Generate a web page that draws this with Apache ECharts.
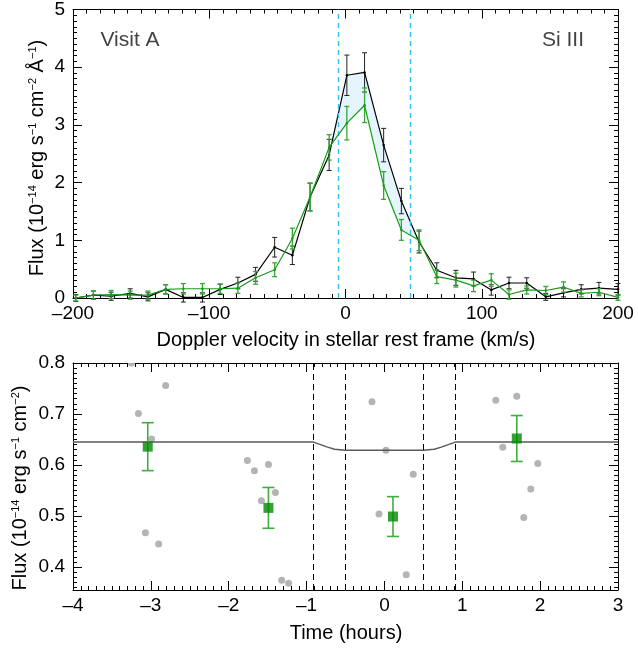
<!DOCTYPE html>
<html><head><meta charset="utf-8">
<script src="https://cdn.jsdelivr.net/npm/echarts@6/dist/echarts.min.js"></script>
<style>html,body{margin:0;padding:0;background:#fff}#c{width:638px;height:648px}</style>
</head><body><div id="c"></div>
<script>
// ---------- Top panel: Si III line profile ----------
const velocity = [-198, -185, -172, -158, -145, -132, -119, -105, -92, -79, -66, -52, -39, -26, -12, 1, 14, 28, 41, 54, 67, 81, 94, 107, 120, 133, 147, 160, 173, 186, 200];
const fluxVisit = [0.00, 0.05, 0.03, 0.08, 0.02, 0.15, 0.01, 0.01, 0.15, 0.26, 0.41, 0.88, 0.74, 1.75, 2.48, 3.86, 3.91, 2.65, 1.68, 0.97, 0.48, 0.35, 0.33, 0.14, 0.26, 0.26, 0.02, 0.09, 0.15, 0.17, 0.15];
const errVisit = [0.06, 0.07, 0.07, 0.08, 0.07, 0.08, 0.08, 0.08, 0.09, 0.10, 0.12, 0.17, 0.16, 0.24, 0.27, 0.35, 0.34, 0.29, 0.22, 0.19, 0.13, 0.13, 0.12, 0.09, 0.10, 0.09, 0.06, 0.07, 0.08, 0.10, 0.10];
const fluxRef = [0.00, 0.05, 0.06, 0.05, 0.05, 0.15, 0.16, 0.16, 0.16, 0.17, 0.35, 0.49, 1.03, 1.75, 2.61, 3.03, 3.34, 1.95, 1.18, 1.00, 0.37, 0.31, 0.21, 0.31, 0.06, 0.14, 0.13, 0.19, 0.08, 0.10, 0.01];
const errRef = [0.05, 0.07, 0.07, 0.07, 0.07, 0.08, 0.09, 0.09, 0.08, 0.09, 0.11, 0.12, 0.18, 0.24, 0.22, 0.29, 0.30, 0.24, 0.18, 0.18, 0.12, 0.12, 0.10, 0.11, 0.08, 0.07, 0.07, 0.09, 0.06, 0.06, 0.05];
const windowEdges = [-5.5, 47.5];
const fillRange = [14, 19];

// ---------- Bottom panel: light curve ----------
const exposureTime = [-3.25, -2.81, -3.16, -2.99, -3.07, -2.90, -1.76, -1.67, -1.49, -1.40, -1.58, -1.32, -1.23, -0.16, 0.02, 0.37, -0.07, 0.28, 1.43, 1.70, 1.52, 1.97, 1.88, 1.79];
const exposureFlux = [0.800, 0.756, 0.701, 0.651, 0.467, 0.445, 0.609, 0.589, 0.601, 0.546, 0.530, 0.374, 0.368, 0.724, 0.629, 0.582, 0.504, 0.385, 0.727, 0.735, 0.635, 0.603, 0.553, 0.497];
const binTime = [-3.04, -1.49, 0.11, 1.70];
const binFlux = [0.636, 0.516, 0.499, 0.652];
const binErr = [0.047, 0.040, 0.039, 0.045];
const modelTime = [-4, -0.91, -0.82, -0.73, -0.64, -0.5, 0.5, 0.64, 0.73, 0.82, 0.91, 3];
const modelFlux = [0.645, 0.645, 0.640, 0.635, 0.631, 0.629, 0.629, 0.631, 0.635, 0.640, 0.645, 0.645];
const contactTimes = [-0.91, -0.5, 0.5, 0.91];
const lcMajorTicks = [0.4, 0.5, 0.6, 0.7, 0.8];

const FONT = '"Liberation Sans", Arial, Helvetica, sans-serif';
const lcMinorTicks = [];
for (let k = 36; k <= 80; k++) { if (k % 10 !== 0) lcMinorTicks.push(k / 100); }

const minusFmt = v => String(v).replace('-', '\u2013');

function xAx(gridIndex, pos, min, max, interval, showLabel) {
  return {
    type: 'value', gridIndex, position: pos, min, max, interval,
    axisLine: { show: true, onZero: false, lineStyle: { color: '#000', width: 1 } },
    axisTick: { show: true, inside: true, length: 9, lineStyle: { color: '#000' } },
    minorTick: { show: true, splitNumber: 10, length: 4, lineStyle: { color: '#000' } },
    splitLine: { show: false }, minorSplitLine: { show: false },
    axisLabel: { show: showLabel, margin: 6, fontSize: 19, fontFamily: FONT, color: '#000', formatter: minusFmt }
  };
}
function yAx(gridIndex, pos, min, max, interval, showLabel) {
  const a = xAx(gridIndex, pos, min, max, interval, showLabel);
  a.axisLabel.margin = 8;
  return a;
}
function yCustom(gridIndex, pos, ticks, len, labels, showLine) {
  return {
    type: 'value', gridIndex, position: pos, min: 0.355, max: 0.8,
    axisLine: { show: showLine, onZero: false, lineStyle: { color: '#000', width: 1 } },
    axisTick: { show: true, inside: true, length: len, customValues: ticks, lineStyle: { color: '#000' } },
    minorTick: { show: false },
    splitLine: { show: false },
    axisLabel: labels ? { show: true, margin: 8, fontSize: 19, fontFamily: FONT, color: '#000', customValues: lcMajorTicks, formatter: v => v.toFixed(1) } : { show: false }
  };
}

function errRender(capHalf, color, width) {
  return function (params, api) {
    const x = api.value(0), lo = api.value(1), hi = api.value(2);
    const p1 = api.coord([x, lo]), p2 = api.coord([x, hi]);
    const style = { stroke: color, lineWidth: width, fill: null };
    return { type: 'group', children: [
      { type: 'line', shape: { x1: p1[0], y1: p1[1], x2: p2[0], y2: p2[1] }, style },
      { type: 'line', shape: { x1: p1[0] - capHalf, y1: p1[1], x2: p1[0] + capHalf, y2: p1[1] }, style },
      { type: 'line', shape: { x1: p2[0] - capHalf, y1: p2[1], x2: p2[0] + capHalf, y2: p2[1] }, style }
    ] };
  };
}

function dotRender(params, api) {
  const p = api.coord([api.value(0), api.value(1)]);
  return { type: 'circle', shape: { cx: p[0], cy: p[1], r: 3.5 }, style: { fill: '#b4b4b4' } };
}

function fillRender(params, api) {
  const d = i => fluxVisit[i] - fluxRef[i];
  const upper = [], lower = [];
  for (let i = fillRange[0]; i <= fillRange[1]; i++) {
    const da = d(i);
    if (da > 0) { upper.push([velocity[i], fluxVisit[i]]); lower.push([velocity[i], fluxRef[i]]); }
    if (i < fillRange[1]) {
      const db = d(i + 1);
      if ((da > 0) !== (db > 0)) {
        const t = da / (da - db);
        const xv = velocity[i] + t * (velocity[i + 1] - velocity[i]);
        const yv = fluxVisit[i] + t * (fluxVisit[i + 1] - fluxVisit[i]);
        upper.push([xv, yv]); lower.push([xv, yv]);
      }
    }
  }
  const pts = upper.concat(lower.reverse()).map(p => api.coord(p));
  return { type: 'polygon', shape: { points: pts }, style: { fill: '#e6f4fd', stroke: null } };
}

const errVisitData = velocity.map((v, i) => [v, fluxVisit[i] - errVisit[i], fluxVisit[i] + errVisit[i]]);
const errRefData = velocity.map((v, i) => [v, fluxRef[i] - errRef[i], fluxRef[i] + errRef[i]]);
const binErrData = binTime.map((t, i) => [t, binFlux[i] - binErr[i], binFlux[i] + binErr[i]]);

const supRich = { s: { fontSize: 11, fontFamily: FONT, verticalAlign: 'top', lineHeight: 11, fill: '#000' } };
function titleText(text, x, y, rot, size, color) {
  return { type: 'text', x, y, rotation: rot || 0, z: 100,
    style: { text, fontSize: size || 20, fontFamily: FONT, fill: color || '#000', align: 'center', verticalAlign: 'middle', rich: supRich } };
}

const chart = echarts.init(document.getElementById('c'), null, { renderer: 'canvas' });
chart.setOption({
  animation: false,
  backgroundColor: '#fff',
  grid: [
    { left: 73, right: 20, top: 8, height: 290 },
    { left: 73, right: 20, top: 363, height: 227 }
  ],
  xAxis: [
    xAx(0, 'bottom', -200, 200, 100, true),
    xAx(0, 'top', -200, 200, 100, false),
    xAx(1, 'bottom', -4, 3, 1, true),
    xAx(1, 'top', -4, 3, 1, false)
  ],
  yAxis: [
    yAx(0, 'left', 0, 5, 1, true),
    yAx(0, 'right', 0, 5, 1, false),
    yCustom(1, 'left', lcMajorTicks, 9, true, true),
    yCustom(1, 'left', lcMinorTicks, 4, false, false),
    yCustom(1, 'right', lcMajorTicks, 9, false, true),
    yCustom(1, 'right', lcMinorTicks, 4, false, false)
  ],
  graphic: [
    titleText('Flux (10{s|\u221214} erg s{s|\u22121} cm{s|\u22122} \u00c5{s|\u22121})', 37, 158, Math.PI / 2),
    titleText('Flux (10{s|\u221214} erg s{s|\u22121} cm{s|\u22122})', 20, 488, Math.PI / 2),
    titleText('Doppler velocity in stellar rest frame (km/s)', 346, 340),
    titleText('Time (hours)', 346, 633),
    titleText('Visit A', 130, 40, 0, 21, '#444'),
    titleText('Si III', 563, 40, 0, 21, '#444')
  ],
  series: [
    { type: 'custom', xAxisIndex: 0, yAxisIndex: 0, data: [[0, 0]], renderItem: fillRender, z: 1, silent: true },
    { type: 'line', xAxisIndex: 0, yAxisIndex: 0, data: [], z: 2, silent: true,
      markLine: { silent: true, symbol: ['none', 'none'], label: { show: false },
        lineStyle: { color: '#35c4f2', width: 1.4, type: [5, 4] },
        data: windowEdges.map(v => ({ xAxis: v })) } },
    { type: 'custom', xAxisIndex: 0, yAxisIndex: 0, data: errVisitData, renderItem: errRender(2.5, '#222', 1), z: 3, encode: { x: 0, y: [1, 2] } },
    { type: 'line', xAxisIndex: 0, yAxisIndex: 0, data: velocity.map((v, i) => [v, fluxVisit[i]]), z: 4,
      symbol: 'circle', symbolSize: 2.5, itemStyle: { color: '#000' }, lineStyle: { color: '#000', width: 1.2 } },
    { type: 'custom', xAxisIndex: 0, yAxisIndex: 0, data: errRefData, renderItem: errRender(2.5, '#33a833', 1.3), z: 5, encode: { x: 0, y: [1, 2] } },
    { type: 'line', xAxisIndex: 0, yAxisIndex: 0, data: velocity.map((v, i) => [v, fluxRef[i]]), z: 6,
      symbol: 'circle', symbolSize: 2.5, itemStyle: { color: '#1a9a1a' }, lineStyle: { color: '#1a9a1a', width: 1.2 } },

    { type: 'custom', xAxisIndex: 2, yAxisIndex: 2, data: exposureTime.map((t, i) => [t, exposureFlux[i]]), z: 2,
      renderItem: dotRender, clip: true, encode: { x: 0, y: 1 } },
    { type: 'line', xAxisIndex: 2, yAxisIndex: 2, data: modelTime.map((t, i) => [t, modelFlux[i]]), z: 3,
      showSymbol: false, symbol: 'none', lineStyle: { color: '#5a5a5a', width: 1.4 },
      markLine: { silent: true, symbol: ['none', 'none'], label: { show: false },
        lineStyle: { color: '#000', width: 1, type: [6, 4] },
        data: contactTimes.map(t => ({ xAxis: t })) } },
    { type: 'custom', xAxisIndex: 2, yAxisIndex: 2, data: binErrData, renderItem: errRender(6, '#3fae3f', 1.6), z: 4, encode: { x: 0, y: [1, 2] } },
    { type: 'scatter', xAxisIndex: 2, yAxisIndex: 2, data: binTime.map((t, i) => [t, binFlux[i]]), z: 5,
      symbol: 'rect', symbolSize: 10, itemStyle: { color: '#008a00' } }
  ]
});
</script>
</body></html>
